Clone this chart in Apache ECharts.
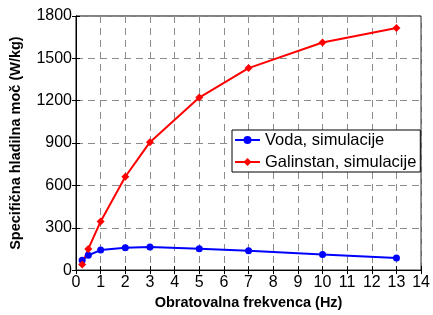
<!DOCTYPE html>
<html>
<head>
<meta charset="utf-8">
<script src="https://cdn.jsdelivr.net/npm/echarts@6/dist/echarts.min.js"></script>
<style>
  html, body { margin: 0; padding: 0; background: #fff; }
  #chart { width: 433px; height: 315px; }
</style>
</head>
<body>
<div id="chart"></div>
<script>
  // frekvence (Hz)
  const freq = [0.25, 0.5, 1, 2, 3, 5, 7, 10, 13]
  // specificna hladilna moc (W/kg)
  const voda = [70, 105, 142, 158, 163, 151, 137, 110, 85]
  const galinstan = [40, 150, 345, 661, 906, 1222, 1431, 1612, 1715]

  const chart = echarts.init(document.getElementById('chart'))

  const font = 'Liberation Sans, Arial, sans-serif'
  const dashed = { show: true, lineStyle: { color: '#8c8c8c', type: [7, 5], width: 1 } }

  const pair = (xs, ys) => xs.map((x, i) => [x, ys[i]])

  const option = {
    animation: false,
    grid: { left: 73, top: 16, right: 10, bottom: 37, show: true, borderColor: '#000', borderWidth: 1 },
    legend: {
      left: 232,
      top: 130,
      orient: 'vertical',
      backgroundColor: '#fff',
      borderColor: '#000',
      borderWidth: 1,
      borderRadius: 0,
      padding: [1, 4, 1, 2],
      itemGap: 4,
      itemWidth: 25,
      itemHeight: 10,
      textStyle: { fontFamily: font, fontSize: 16.5, lineHeight: 18, color: '#000' },
      data: ['Voda, simulacije', 'Galinstan, simulacije']
    },
    xAxis: [
      {
        type: 'value', min: 0, max: 14, interval: 1,
        name: 'Obratovalna frekvenca (Hz)', nameLocation: 'middle', nameGap: 20,
        nameTextStyle: { fontFamily: font, fontSize: 14.5, fontWeight: 'bold', color: '#000' },
        axisLine: { show: true, lineStyle: { color: '#000' } },
        axisTick: { show: true, inside: true, length: 4, lineStyle: { color: '#000' } },
        axisLabel: { fontFamily: font, fontSize: 16, color: '#000', margin: 4 },
        splitLine: dashed
      },
      {
        type: 'value', min: 0, max: 14, interval: 1, position: 'top',
        axisLine: { show: true, lineStyle: { color: '#000' } },
        axisTick: { show: true, inside: true, length: 4, lineStyle: { color: '#000' } },
        axisLabel: { show: false }, splitLine: { show: false }
      }
    ],
    yAxis: [
      {
        type: 'value', min: 0, max: 1800, interval: 300,
        name: 'Specifična hladilna moč (W/kg)', nameLocation: 'middle', nameGap: 53,
        nameTextStyle: { fontFamily: font, fontSize: 14.5, fontWeight: 'bold', color: '#000' },
        axisLine: { show: true, lineStyle: { color: '#000' } },
        axisTick: { show: true, inside: true, length: 4, lineStyle: { color: '#000' } },
        axisLabel: { fontFamily: font, fontSize: 16, color: '#000', margin: 4, formatter: (v) => String(v) },
        splitLine: dashed
      },
      {
        type: 'value', min: 0, max: 1800, interval: 300, position: 'right',
        axisLine: { show: true, lineStyle: { color: '#000' } },
        axisTick: { show: true, inside: true, length: 4, lineStyle: { color: '#000' } },
        axisLabel: { show: false }, splitLine: { show: false }
      }
    ],
    series: [
      {
        name: 'Voda, simulacije',
        type: 'line',
        data: pair(freq, voda),
        symbol: 'circle',
        symbolSize: 7,
        color: '#0000ff',
        lineStyle: { width: 2, color: '#0000ff' },
        itemStyle: { color: '#0000ff' }
      },
      {
        name: 'Galinstan, simulacije',
        type: 'line',
        data: pair(freq, galinstan),
        symbol: 'diamond',
        symbolSize: 8,
        color: '#ff0000',
        lineStyle: { width: 2, color: '#ff0000' },
        itemStyle: { color: '#ff0000' }
      }
    ]
  }

  chart.setOption(option)
</script>
</body>
</html>
